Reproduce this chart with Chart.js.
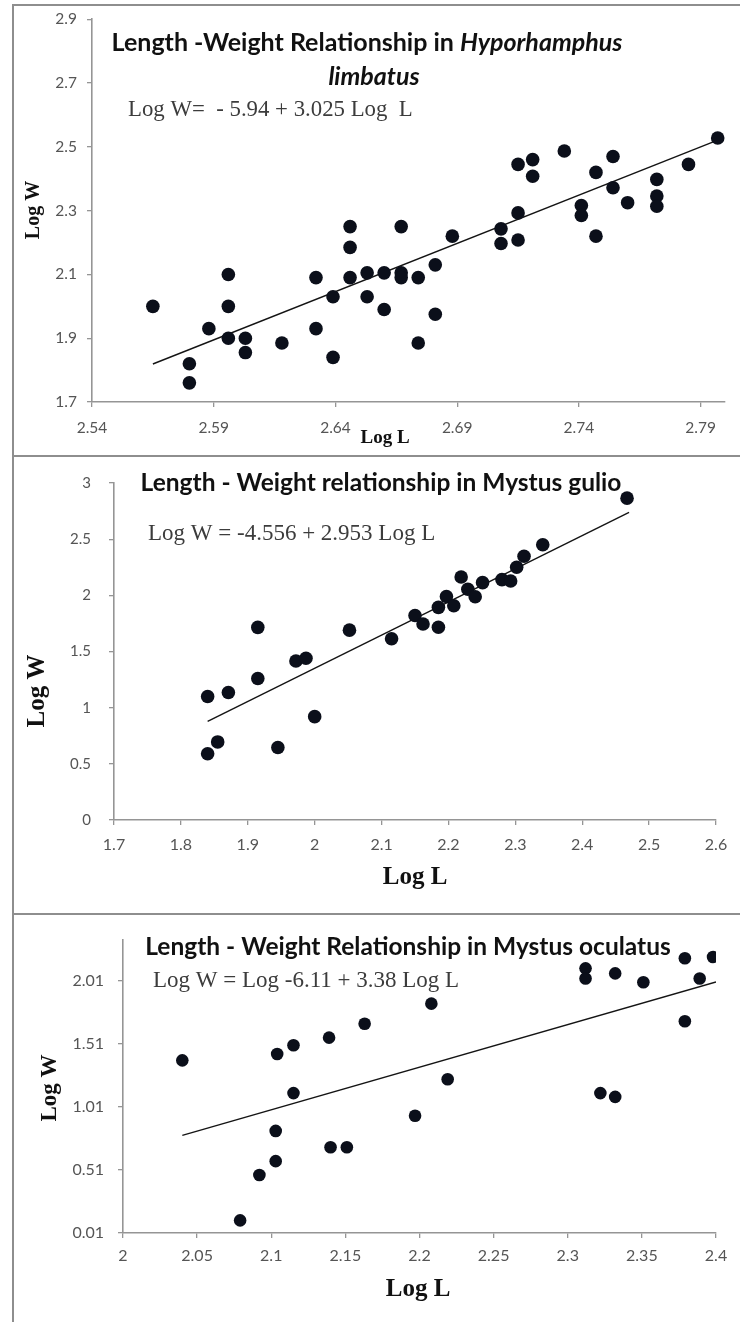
<!DOCTYPE html>
<html>
<head>
<meta charset="utf-8">
<title>Length-Weight relationships</title>
<script src="https://cdn.jsdelivr.net/npm/chart.js@4.4.1/dist/chart.umd.min.js"></script>
<style>
  html, body { margin: 0; padding: 0; background: #ffffff; }
  body { width: 740px; height: 1322px; position: relative; overflow: hidden; }
  canvas { position: absolute; left: 0; }
  .rule { position: absolute; background: #8e8e8e; }
</style>
</head>
<body>
<div class="rule" style="left:12px; top:4px; width:728px; height:2px;"></div>
<div class="rule" style="left:12px; top:455px; width:728px; height:2px;"></div>
<div class="rule" style="left:12px; top:913px; width:728px; height:2px;"></div>
<div class="rule" style="left:12px; top:4px; width:2px; height:1318px;"></div>

<canvas id="hyporhamphus" width="740" height="456" style="top:0px;"></canvas>
<canvas id="gulio" width="740" height="458" style="top:456px;"></canvas>
<canvas id="oculatus" width="740" height="408" style="top:914px;"></canvas>

<script>
// ---- Hyporhamphus limbatus ----
const hyporhamphusLogL = [2.565, 2.580, 2.580, 2.588, 2.596, 2.596, 2.596, 2.603, 2.603, 2.618,
  2.632, 2.632, 2.639, 2.639, 2.646, 2.646, 2.646, 2.653, 2.653, 2.660,
  2.660, 2.667, 2.667, 2.667, 2.674, 2.674, 2.681, 2.681, 2.688, 2.708,
  2.708, 2.715, 2.715, 2.715, 2.721, 2.721, 2.734, 2.741, 2.741, 2.747,
  2.747, 2.754, 2.754, 2.760, 2.772, 2.772, 2.772, 2.785, 2.797];
const hyporhamphusLogW = [2.00, 1.82, 1.76, 1.93, 2.10, 2.00, 1.90, 1.90, 1.855, 1.885,
  2.09, 1.93, 2.03, 1.84, 2.25, 2.185, 2.09, 2.105, 2.03, 2.105,
  1.99, 2.25, 2.105, 2.09, 2.09, 1.885, 2.13, 1.975, 2.22, 2.243,
  2.197, 2.445, 2.293, 2.208, 2.46, 2.408, 2.487, 2.316, 2.285, 2.42,
  2.22, 2.47, 2.372, 2.325, 2.398, 2.346, 2.314, 2.445, 2.528];
const hyporhamphusFit = [-5.94, 3.025];          // intercept, slope
const hyporhamphusFitSpan = [2.565, 2.797];
const hyporhamphusXTicks = ['2.54', '2.59', '2.64', '2.69', '2.74', '2.79'];
const hyporhamphusYTicks = ['1.7', '1.9', '2.1', '2.3', '2.5', '2.7', '2.9'];

// ---- Mystus gulio ----
const gulioLogL = [1.840, 1.840, 1.855, 1.871, 1.915, 1.915, 1.945, 1.972, 1.987, 2.000,
  2.052, 2.115, 2.150, 2.162, 2.185, 2.185, 2.197, 2.208, 2.219, 2.229,
  2.240, 2.251, 2.280, 2.293, 2.302, 2.313, 2.341, 2.467];
const gulioLogW = [1.10, 0.59, 0.695, 1.135, 1.26, 1.715, 0.645, 1.415, 1.44, 0.92,
  1.69, 1.614, 1.82, 1.745, 1.893, 1.716, 1.99, 1.907, 2.163, 2.054,
  1.987, 2.113, 2.14, 2.128, 2.25, 2.348, 2.45, 2.865];
const gulioFit = [-4.556, 2.953];
const gulioFitSpan = [1.84, 2.47];
const gulioXTicks = ['1.7', '1.8', '1.9', '2', '2.1', '2.2', '2.3', '2.4', '2.5', '2.6'];
const gulioYTicks = ['0', '0.5', '1', '1.5', '2', '2.5', '3'];

// ---- Mystus oculatus ----
const oculatusLogL = [2.040, 2.079, 2.092, 2.103, 2.103, 2.104, 2.115, 2.115, 2.139, 2.140,
  2.151, 2.163, 2.197, 2.208, 2.219, 2.312, 2.312, 2.322, 2.332, 2.332,
  2.351, 2.379, 2.379, 2.389, 2.398];
const oculatusLogW = [1.38, 0.11, 0.47, 0.82, 0.58, 1.43, 1.50, 1.12, 1.56, 0.69,
  0.69, 1.67, 0.94, 1.83, 1.23, 2.11, 2.03, 1.12, 2.07, 1.09,
  2.00, 2.19, 1.69, 2.03, 2.20];
const oculatusFit = [-6.11, 3.38];
const oculatusFitSpan = [2.04, 2.40];
const oculatusXTicks = ['2', '2.05', '2.1', '2.15', '2.2', '2.25', '2.3', '2.35', '2.4'];
const oculatusYTicks = ['0.01', '0.51', '1.01', '1.51', '2.01'];

const DOT = '#0b0f1a';
const AXIS_GREY = '#959595';
const TICK_GREY = '#555555';
const TITLE = 'Lato, "Open Sans", sans-serif';
const SERIF = '"Liberation Serif", "DejaVu Serif", serif';

// Free text (chart heading, equation, axis names) painted under the marks.
const panelText = {
  id: 'panelText',
  beforeDatasetsDraw(chart, args, opts) {
    const ctx = chart.ctx;
    (opts.items || []).forEach(item => {
      ctx.save();
      ctx.fillStyle = item.color || '#111111';
      ctx.textBaseline = 'middle';
      ctx.textAlign = 'left';
      ctx.translate(item.x, item.y);
      if (item.rotate) ctx.rotate(item.rotate);
      let total = 0;
      item.runs.forEach(([text, font]) => { ctx.font = font; total += ctx.measureText(text).width; });
      let x = item.align === 'left' ? 0 : -total / 2;
      item.runs.forEach(([text, font]) => {
        ctx.font = font;
        ctx.fillText(text, x, 0);
        x += ctx.measureText(text).width;
      });
      ctx.restore();
    });
  }
};

function axis(labels, range, fitBox, tickSize, tickPad) {
  const values = labels.map(Number);
  return {
    type: 'linear',
    min: range[0],
    max: range[1],
    afterBuildTicks: scale => { scale.ticks = values.map(v => ({ value: v })); },
    afterFit: fitBox,
    ticks: {
      callback: (value, index) => labels[index],
      font: { family: TITLE, size: tickSize },
      color: TICK_GREY,
      padding: tickPad,
      autoSkip: false,
      maxRotation: 0,
      minRotation: 0
    },
    grid: { drawOnChartArea: false, drawTicks: true, tickLength: 5, color: AXIS_GREY, lineWidth: 1.3 },
    border: { display: true, color: AXIS_GREY, width: 1.6 }
  };
}

function panel(id, p) {
  new Chart(document.getElementById(id), {
    type: 'scatter',
    data: {
      datasets: [
        {
          data: p.logL.map((x, i) => ({ x, y: p.logW[i] })),
          pointRadius: p.dot,
          pointHoverRadius: p.dot,
          backgroundColor: DOT,
          borderWidth: 0,
          order: 0
        },
        {
          type: 'line',
          data: p.span.map(x => ({ x, y: p.fit[0] + p.fit[1] * x })),
          borderColor: '#141414',
          borderWidth: 1.4,
          pointRadius: 0,
          fill: false,
          order: 1
        }
      ]
    },
    options: {
      responsive: false,
      animation: false,
      events: [],
      layout: { padding: p.padding },
      plugins: {
        legend: { display: false },
        tooltip: { enabled: false },
        panelText: { items: p.texts }
      },
      scales: {
        x: axis(p.xTicks, p.xRange, s => { s.height = 40; }, p.xTickSize, p.xTickPad),
        y: axis(p.yTicks, p.yRange, s => { s.width = p.plotLeft; }, p.yTickSize, p.yTickPad)
      }
    },
    plugins: [panelText]
  });
}

panel('hyporhamphus', {
  logL: hyporhamphusLogL, logW: hyporhamphusLogW,
  fit: hyporhamphusFit, span: hyporhamphusFitSpan,
  xTicks: hyporhamphusXTicks, yTicks: hyporhamphusYTicks,
  xRange: [2.54, 2.80], yRange: [1.7, 2.9],
  plotLeft: 92,
  padding: { left: 0, top: 19, right: 15, bottom: 14 },
  xTickSize: 15.5, xTickPad: 12, yTickSize: 15.5, yTickPad: 10,
  dot: 6.8,
  texts: [
    { x: 367, y: 43, runs: [['Length -Weight Relationship in ', `bold 25px ${TITLE}`], ['Hyporhamphus', `italic bold 25px ${TITLE}`]] },
    { x: 374, y: 77, runs: [['limbatus', `italic bold 25px ${TITLE}`]] },
    { x: 128, y: 110, align: 'left', color: '#3c3c3c', runs: [['Log W=  - 5.94 + 3.025 Log  L', `22.8px ${SERIF}`]] },
    { x: 34, y: 210, rotate: -Math.PI / 2, runs: [['Log W', `bold 20px ${SERIF}`]] },
    { x: 385, y: 438, runs: [['Log L', `bold 19px ${SERIF}`]] }
  ]
});

panel('gulio', {
  logL: gulioLogL, logW: gulioLogW,
  fit: gulioFit, span: gulioFitSpan,
  xTicks: gulioXTicks, yTicks: gulioYTicks,
  xRange: [1.7, 2.6], yRange: [0, 3],
  plotLeft: 114,
  padding: { left: 0, top: 23, right: 24, bottom: 54 },
  xTickSize: 16, xTickPad: 10, yTickSize: 15, yTickPad: 18,
  dot: 6.8,
  texts: [
    { x: 381, y: 27, runs: [['Length - Weight relationship in Mystus gulio', `bold 24.5px ${TITLE}`]] },
    { x: 148, y: 78, align: 'left', color: '#3c3c3c', runs: [['Log W = -4.556 + 2.953 Log L', `23px ${SERIF}`]] },
    { x: 38, y: 235, rotate: -Math.PI / 2, runs: [['Log W', `bold 25px ${SERIF}`]] },
    { x: 415, y: 422, runs: [['Log L', `bold 25px ${SERIF}`]] }
  ]
});

panel('oculatus', {
  logL: oculatusLogL, logW: oculatusLogW,
  fit: oculatusFit, span: oculatusFitSpan,
  xTicks: oculatusXTicks, yTicks: oculatusYTicks,
  xRange: [2.0, 2.4], yRange: [0.01, 2.335],
  plotLeft: 123,
  padding: { left: 0, top: 26, right: 24, bottom: 49 },
  xTickSize: 16, xTickPad: 8, yTickSize: 16, yTickPad: 14,
  dot: 6.3,
  texts: [
    { x: 408, y: 33, runs: [['Length - Weight Relationship in Mystus oculatus', `bold 24.5px ${TITLE}`]] },
    { x: 153, y: 67, align: 'left', color: '#3c3c3c', runs: [['Log W = Log -6.11 + 3.38 Log L', `23px ${SERIF}`]] },
    { x: 50, y: 174, rotate: -Math.PI / 2, runs: [['Log W', `bold 23px ${SERIF}`]] },
    { x: 418, y: 376, runs: [['Log L', `bold 25px ${SERIF}`]] }
  ]
});
</script>
</body>
</html>
